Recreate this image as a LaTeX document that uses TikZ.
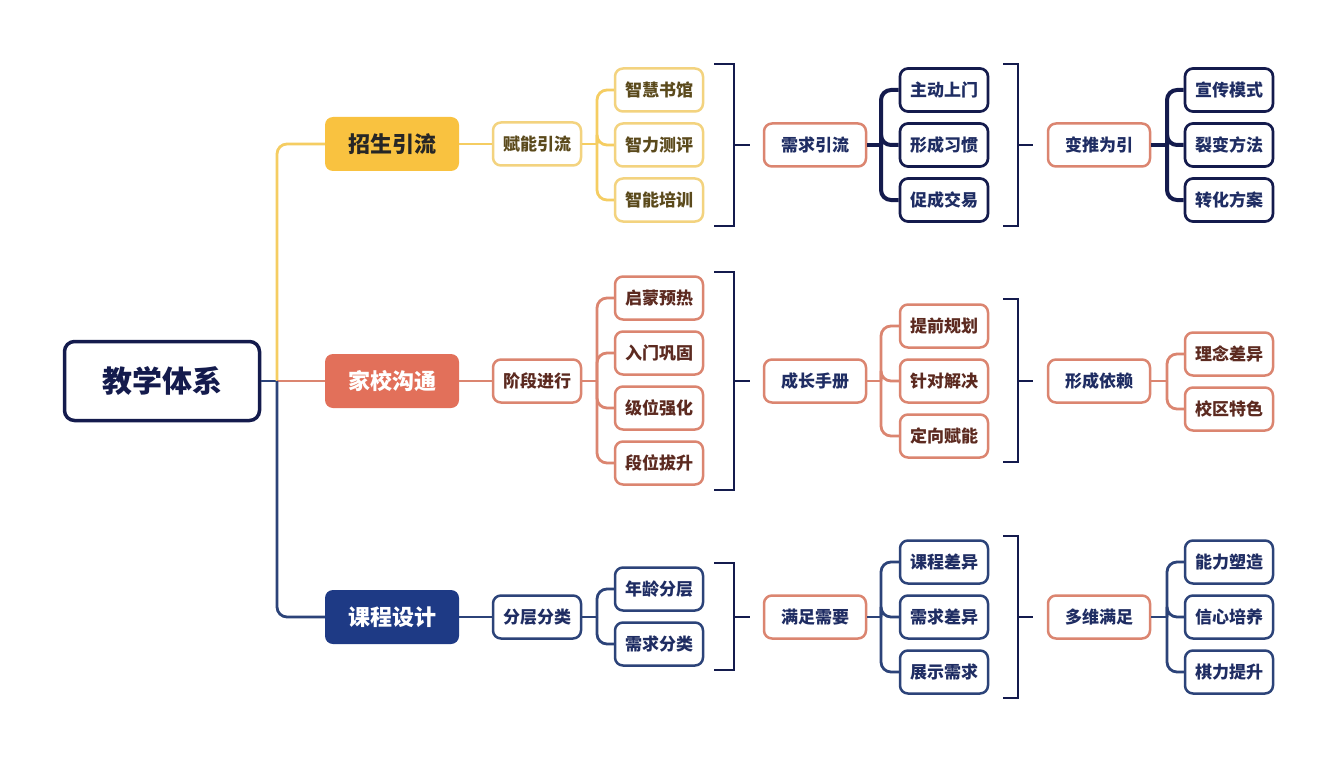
\documentclass[tikz,border=0pt]{standalone}
\usepackage{fontspec}
\setmainfont{Noto Sans CJK SC}
\definecolor{ylw}{HTML}{F9C240}
\definecolor{ylwl}{HTML}{F5CD62}
\definecolor{ylwb}{HTML}{F3D37F}
\definecolor{brn}{HTML}{5B4A1C}
\definecolor{crl}{HTML}{E2705A}
\definecolor{crlb}{HTML}{DB8570}
\definecolor{mrn}{HTML}{5C2A20}
\definecolor{nvy}{HTML}{1E3A85}
\definecolor{nvyb}{HTML}{2C4379}
\definecolor{dnv}{HTML}{141B4D}
\definecolor{ntx}{HTML}{1F2D63}
\tikzset{
  base/.style={rounded corners=8pt, inner sep=0pt, font=\bfseries\fontsize{17}{17}\selectfont, fill=white},
  leaf/.style={base, draw, line width=2.5pt, minimum width=88pt, minimum height=43pt},
  mid/.style={base, draw, line width=2.5pt, minimum width=102pt, minimum height=43pt},
  lvone/.style={rounded corners=8pt, inner sep=0pt, minimum width=134pt, minimum height=54pt, font=\bfseries\fontsize{22}{22}\selectfont},
  ybox/.style={leaf, draw=ylwb, text=brn},
  cbox/.style={leaf, draw=crlb, text=mrn},
  nbox/.style={leaf, draw=nvyb, text=ntx},
  dbox/.style={leaf, draw=dnv, line width=2.7pt, text=ntx},
  cmid/.style={mid, draw=crlb, text=ntx},
  yln/.style={draw=ylwl, line width=2.8pt, rounded corners=10pt},
  cln/.style={draw=crlb, line width=2.8pt, rounded corners=10pt},
  nln/.style={draw=nvyb, line width=2.8pt, rounded corners=10pt},
  dln/.style={draw=dnv, line width=4pt, rounded corners=10pt},
  brk/.style={draw=dnv, line width=2.6pt},
}
\begin{document}
\begin{tikzpicture}[x=1pt,y=-1pt]
\useasboundingbox[fill=white] (0,0) rectangle (1337,762);

% root
\node[base, draw=dnv, line width=3.5pt, rounded corners=10pt, minimum width=195pt, minimum height=79pt, text=dnv, font=\bfseries\fontsize{30}{30}\selectfont] (root) at (162,381) {教学体系};

% level 1
\node[lvone, fill=ylw, text=black!85] (zs) at (392,144) {招生引流};
\node[lvone, fill=crl, text=white] (jx) at (392,381) {家校沟通};
\node[lvone, fill=nvy, text=white] (kc) at (392,617) {课程设计};

\coordinate (t) at (277,381);
\draw[draw=nvyb, line width=2.8pt] (root.east) -- (t);
\draw[yln] (t) |- (zs.west);
\draw[cln] (t) -- (jx.west);
\draw[nln] (t) |- (kc.west);

% level 2
\node[ybox] (fn) at (537,144) {赋能引流};
\node[cbox] (jd) at (537,381) {阶段进行};
\node[nbox] (fc) at (537,617) {分层分类};
\draw[yln] (zs.east) -- (fn.west);
\draw[cln] (jx.east) -- (jd.west);
\draw[nln] (kc.east) -- (fc.west);

% level 3
\node[ybox] (a1) at (659,90) {智慧书馆};
\node[ybox] (a2) at (659,145) {智力测评};
\node[ybox] (a3) at (659,200) {智能培训};
\node[cbox] (b1) at (659,298) {启蒙预热};
\node[cbox] (b2) at (659,353) {入门巩固};
\node[cbox] (b3) at (659,408) {级位强化};
\node[cbox] (b4) at (659,463) {段位拔升};
\node[nbox] (c1) at (659,589) {年龄分层};
\node[nbox] (c2) at (659,644) {需求分类};

\coordinate (ja) at (597,144);
\coordinate (jb) at (597,381);
\coordinate (jc) at (597,617);
\draw[yln] (fn.east) -- (ja);
\foreach \n in {a1,a2,a3} \draw[yln] (ja) |- (\n.west);
\draw[cln] (jd.east) -- (jb);
\foreach \n in {b1,b2,b3,b4} \draw[cln] (jb) |- (\n.west);
\draw[nln] (fc.east) -- (jc);
\foreach \n in {c1,c2} \draw[nln] (jc) |- (\n.west);

% brackets 1
\coordinate (p1) at (714,64); \coordinate (p2) at (734,64); \coordinate (p3) at (734,226); \coordinate (p4) at (714,226);
\coordinate (pm) at (734,145); \coordinate (pe) at (750,145);
\draw[brk] (p1) -- (p2) -- (p3) -- (p4); \draw[brk] (pm) -- (pe);
\coordinate (q1) at (714,272); \coordinate (q2) at (734,272); \coordinate (q3) at (734,490); \coordinate (q4) at (714,490);
\coordinate (qm) at (734,381); \coordinate (qe) at (750,381);
\draw[brk] (q1) -- (q2) -- (q3) -- (q4); \draw[brk] (qm) -- (qe);
\coordinate (r1) at (714,563); \coordinate (r2) at (734,563); \coordinate (r3) at (734,670); \coordinate (r4) at (714,670);
\coordinate (rm) at (734,617); \coordinate (re) at (750,617);
\draw[brk] (r1) -- (r2) -- (r3) -- (r4); \draw[brk] (rm) -- (re);

% level 4
\node[cmid] (d1) at (815,145) {需求引流};
\node[cmid] (d2) at (815,381) {成长手册};
\node[cmid] (d3) at (815,617) {满足需要};

% level 5
\node[dbox] (e1) at (944,90) {主动上门};
\node[dbox] (e2) at (944,145) {形成习惯};
\node[dbox] (e3) at (944,200) {促成交易};
\node[cbox] (f1) at (944,326) {提前规划};
\node[cbox] (f2) at (944,381) {针对解决};
\node[cbox] (f3) at (944,436) {定向赋能};
\node[nbox] (g1) at (944,562) {课程差异};
\node[nbox] (g2) at (944,617) {需求差异};
\node[nbox] (g3) at (944,672) {展示需求};

\coordinate (je) at (881,145);
\coordinate (jf) at (881,381);
\coordinate (jg) at (881,617);
\draw[dln] (d1.east) -- (je);
\foreach \n in {e1,e2,e3} \draw[dln] (je) |- (\n.west);
\draw[cln] (d2.east) -- (jf);
\foreach \n in {f1,f2,f3} \draw[cln] (jf) |- (\n.west);
\draw[nln] (d3.east) -- (jg);
\foreach \n in {g1,g2,g3} \draw[nln] (jg) |- (\n.west);

% brackets 2
\coordinate (s1) at (1003,64); \coordinate (s2) at (1018,64); \coordinate (s3) at (1018,226); \coordinate (s4) at (1003,226);
\coordinate (sm) at (1018,145); \coordinate (se) at (1033,145);
\draw[brk] (s1) -- (s2) -- (s3) -- (s4); \draw[brk] (sm) -- (se);
\coordinate (u1) at (1003,299); \coordinate (u2) at (1018,299); \coordinate (u3) at (1018,462); \coordinate (u4) at (1003,462);
\coordinate (um) at (1018,381); \coordinate (ue) at (1033,381);
\draw[brk] (u1) -- (u2) -- (u3) -- (u4); \draw[brk] (um) -- (ue);
\coordinate (v1) at (1003,536); \coordinate (v2) at (1018,536); \coordinate (v3) at (1018,698); \coordinate (v4) at (1003,698);
\coordinate (vm) at (1018,617); \coordinate (ve) at (1033,617);
\draw[brk] (v1) -- (v2) -- (v3) -- (v4); \draw[brk] (vm) -- (ve);

% level 6
\node[cmid] (h1) at (1099,145) {变推为引};
\node[cmid] (h2) at (1099,381) {形成依赖};
\node[cmid] (h3) at (1099,617) {多维满足};

% level 7
\node[dbox] (k1) at (1229,90) {宣传模式};
\node[dbox] (k2) at (1229,145) {裂变方法};
\node[dbox] (k3) at (1229,200) {转化方案};
\node[cbox] (m1) at (1229,354) {理念差异};
\node[cbox] (m2) at (1229,409) {校区特色};
\node[nbox] (n1) at (1229,562) {能力塑造};
\node[nbox] (n2) at (1229,617) {信心培养};
\node[nbox] (n3) at (1229,672) {棋力提升};

\coordinate (jk) at (1167,145);
\coordinate (jm) at (1167,381);
\coordinate (jn) at (1167,617);
\draw[dln] (h1.east) -- (jk);
\foreach \n in {k1,k2,k3} \draw[dln] (jk) |- (\n.west);
\draw[cln] (h2.east) -- (jm);
\foreach \n in {m1,m2} \draw[cln] (jm) |- (\n.west);
\draw[nln] (h3.east) -- (jn);
\foreach \n in {n1,n2,n3} \draw[nln] (jn) |- (\n.west);
\end{tikzpicture}
\end{document}
